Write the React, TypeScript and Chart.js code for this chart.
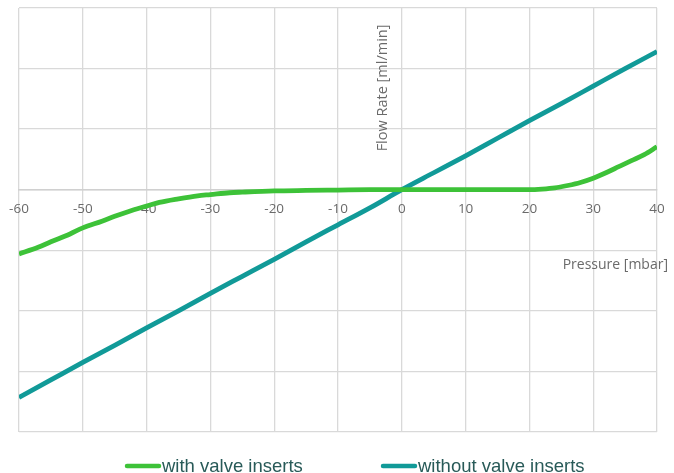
import React, { useEffect, useRef } from "react";
import { Chart, registerables } from "chart.js";

Chart.register(...registerables);

const xTicks = [-60, -50, -40, -30, -20, -10, 0, 10, 20, 30, 40];

const withPressure = [-60, -57, -55, -52, -50, -47, -45, -42, -40, -38, -35, -32, -30, -27, -25, -20, -15, -10, -5, 0, 5, 10, 15, 20, 22, 24, 26, 28, 30, 32, 34, 36, 38, 40];
const withFlow = [-1.06, -0.95, -0.86, -0.73, -0.63, -0.52, -0.44, -0.33, -0.27, -0.21, -0.15, -0.1, -0.08, -0.05, -0.04, -0.02, -0.012, -0.006, 0, 0, 0, 0, 0, 0, 0.01, 0.03, 0.07, 0.12, 0.19, 0.28, 0.38, 0.48, 0.58, 0.71];

const withoutPressure = [-60, -55, -50, -45, -40, -35, -30, -25, -20, -15, -10, -5, 0, 5, 10, 15, 20, 25, 30, 35, 40];
const withoutFlow = [-3.43, -3.14, -2.85, -2.57, -2.28, -2.0, -1.71, -1.43, -1.15, -0.86, -0.58, -0.3, 0, 0.28, 0.56, 0.85, 1.14, 1.42, 1.71, 2.0, 2.28];

const seriesLabels = ["with valve inserts", "without valve inserts"];
const seriesColors = ["#3dc238", "#119a98"];
const xTitle = "Pressure [mbar]";
const yTitle = "Flow Rate [ml/min]";

export default function App() {
  const ref = useRef<HTMLCanvasElement | null>(null);

  useEffect(() => {
    if (!ref.current) return;
    const overlay = {
      id: "overlay",
      afterDraw(chart: any) {
        const ctx = chart.ctx;
        const xs = chart.scales.x;
        const ys = chart.scales.y;
        ctx.save();
        ctx.fillStyle = "#6a6a6a";
        ctx.font = "14.5px 'Open Sans'";
        ctx.textAlign = "center";
        ctx.textBaseline = "middle";
        ctx.translate(xs.getPixelForValue(0) - 19, ys.getPixelForValue(1.68));
        ctx.rotate(-Math.PI / 2);
        ctx.fillText(yTitle, 0, 0);
        ctx.restore();
        ctx.save();
        ctx.fillStyle = "#6a6a6a";
        ctx.font = "14px 'Open Sans'";
        ctx.textAlign = "right";
        ctx.textBaseline = "middle";
        ctx.fillText(xTitle, chart.chartArea.right + 11, ys.getPixelForValue(-1.25));
        ctx.restore();
        // legend
        ctx.save();
        const ly = chart.chartArea.bottom + 34;
        const starts = [125, 381];
        ctx.font = "18.5px 'Liberation Sans'";
        ctx.textBaseline = "middle";
        ctx.textAlign = "left";
        chart.data.datasets.forEach((ds: any, i: number) => {
          ctx.strokeStyle = ds.borderColor;
          ctx.lineWidth = 4.5;
          ctx.lineCap = "round";
          ctx.beginPath();
          ctx.moveTo(starts[i] + 2, ly);
          ctx.lineTo(starts[i] + 34, ly);
          ctx.stroke();
          ctx.fillStyle = "#285a58";
          ctx.fillText(ds.label, starts[i] + 37, ly + 1);
        });
        ctx.restore();
      },
    };

    const chart = new Chart(ref.current, {
      type: "line",
      data: {
        datasets: [
          {
            label: seriesLabels[0],
            data: withPressure.map((x, i) => ({ x, y: withFlow[i] })),
            borderColor: seriesColors[0],
            backgroundColor: seriesColors[0],
            borderWidth: 4.8,
            pointRadius: 0,
            tension: 0.4,
            cubicInterpolationMode: "monotone",
          },
          {
            label: seriesLabels[1],
            data: withoutPressure.map((x, i) => ({ x, y: withoutFlow[i] })),
            borderColor: seriesColors[1],
            backgroundColor: seriesColors[1],
            borderWidth: 4.8,
            pointRadius: 0,
            tension: 0.4,
            cubicInterpolationMode: "monotone",
          },
        ],
      },
      options: {
        animation: false,
        responsive: true,
        maintainAspectRatio: false,
        layout: { padding: { left: 19, right: 17, top: 8, bottom: 41 } },
        plugins: { legend: { display: false }, tooltip: { enabled: false } },
        scales: {
          x: {
            type: "linear",
            position: { y: 0 },
            min: -60,
            max: 40,
            afterBuildTicks: (axis: any) => {
              axis.ticks = xTicks.map((v) => ({ value: v }));
            },
            afterFit: (axis: any) => {
              axis.paddingLeft = 0;
              axis.paddingRight = 0;
            },
            ticks: {
              color: "#6a6a6a",
              font: { family: "'Open Sans'", size: 13.5 },
              padding: 11,
              maxRotation: 0,
              autoSkip: false,
            },
            grid: { color: "#d9d9d9", lineWidth: 1.3, drawTicks: false },
            border: { display: true, color: "#d0d0d0", width: 1.5 },
          },
          y: {
            type: "linear",
            min: -4,
            max: 3,
            ticks: { display: false, stepSize: 1 },
            grid: { color: "#d9d9d9", lineWidth: 1.3, drawTicks: false },
            border: { display: false },
          },
        },
      },
      plugins: [overlay],
    } as any);
    return () => chart.destroy();
  }, []);

  return (
    <div style={{ position: "fixed", left: 0, top: 0, width: 674, height: 473, background: "#fff" }}>
      <canvas ref={ref} />
    </div>
  );
}
